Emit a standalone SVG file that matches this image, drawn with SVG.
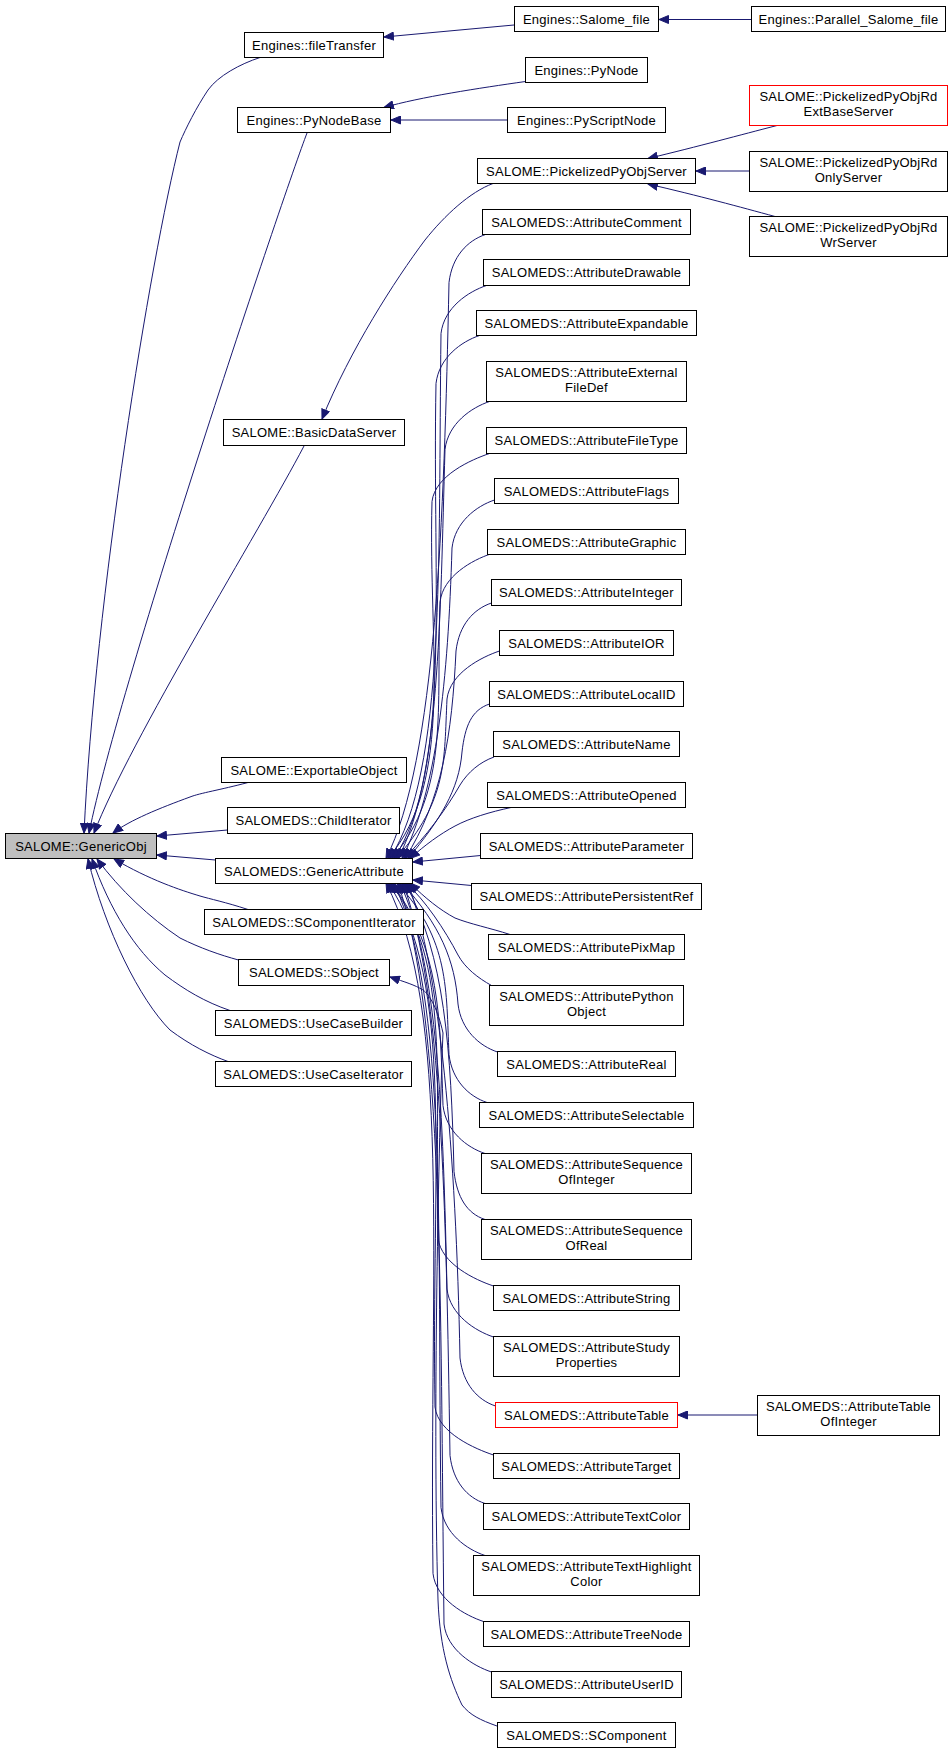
<svg xmlns="http://www.w3.org/2000/svg" width="952" height="1753" viewBox="0 0 952 1753">
<style>
rect{fill:#fff;stroke:#000;stroke-width:1}
rect.g{fill:#bfbfbf}
rect.r{stroke:#ff0000}
text{font-family:"Liberation Sans",Arial,sans-serif;font-size:13px;letter-spacing:0.25px;text-anchor:middle;fill:#000}
#edges path{fill:none;stroke:#191970;stroke-width:1;marker-end:url(#ah)}
</style>
<defs>
<marker id="ah" markerUnits="userSpaceOnUse" markerWidth="11" markerHeight="9" refX="10" refY="4.5" orient="auto">
<path d="M0.5,0.5 L10,4.5 L0.5,8.5 z" fill="#191970" stroke="#191970" stroke-width="1"/>
</marker>
</defs>
<rect x="0" y="0" width="952" height="1753" style="fill:#fff;stroke:none"/>
<g id="edges">
<path d="M751,19.5 L659,19.5"/>
<path d="M514,25 L384,37"/>
<path d="M525.5,81.5 C480,88 420,97 384,107.5"/>
<path d="M507,120 L391,120"/>
<path d="M777,125.5 C740,135 700,146 648,158.5"/>
<path d="M749.5,171 L696,171"/>
<path d="M775,216.5 C740,207 700,196 648,184"/>
<path d="M493,183.5 C470,192 445,215 425,240 C395,280 350,350 322,419"/>
<path d="M260,57.5 C240,64 218,76 208,90 C196,108 186,128 180,142 C150,260 95,600 84,833"/>
<path d="M307,133 C285,190 120,680 89,833"/>
<path d="M304,446 C260,530 130,740 94,833"/>
<path d="M248,782.5 C220,790 200,793 190,797 C160,808 130,820 113,833"/>
<path d="M227.5,830 L157,836"/>
<path d="M215.5,860 L157,855"/>
<path d="M248,909.5 C225,902 210,899 200,896 C180,890 150,880 114,859"/>
<path d="M238.5,960 C220,955 200,948 180,938 C150,918 120,890 97,859"/>
<path d="M230,1010.5 C205,1002 185,990 165,975 C135,950 110,910 92,859"/>
<path d="M228,1061.5 C210,1055 190,1045 170,1030 C140,1000 105,930 88,859"/>
<path d="M485.5,234.5 C467.5,240.5 452,256.5 449,282.5 C444,520 436,760 386,858.5"/>
<path d="M486.5,285.5 C468.5,291.5 444,307.5 441,333.5 C438,560 446,770 390,858.5"/>
<path d="M479.5,335.5 C461.5,341.5 439,357.5 436,383.5 C432,590 452,770 394,858.5"/>
<path d="M489.5,401.5 C471.5,407.5 448,423.5 445,449.5 C440,620 440,780 398,858.5"/>
<path d="M489.5,453.5 C471.5,459.5 435,475.5 432,501.5 C428,650 455,780 388,858.5"/>
<path d="M494.5,500 C476.5,506 455,522 452,548 C448,680 437,790 402,858.5"/>
<path d="M490.5,554 C472.5,560 443,576 440,602 C436,710 450,790 392,858.5"/>
<path d="M491.5,603 C473.5,609 459,625 456,651 C452,735 442,800 405,858.5"/>
<path d="M499.5,651 C481.5,657 450,673 447,699 C444,760 448,800 396,858.5"/>
<path d="M489.5,704 C471.5,710 465,726 462,752 C459,790 440,820 408,858.5"/>
<path d="M494,757 C480,762 468,772 460,785 C447,808 425,838 404,858.5"/>
<path d="M511,807.5 C490,812 470,818 455,826 C440,834 425,845 410,858.5"/>
<path d="M480.5,855.5 L413,862"/>
<path d="M471.5,885.5 L413,880"/>
<path d="M510,934.5 C490,928 470,924 455,918 C440,910 425,898 410,883"/>
<path d="M491.5,985.5 C478,978 465,968 458,955 C445,930 425,900 406,883"/>
<path d="M497.5,1052 C479.5,1046 461,1030 458,1004 C455,960 440,925 402,883"/>
<path d="M487,1102.5 C469,1096.5 452,1080.5 449,1054.5 C446,990 450,940 397,883"/>
<path d="M485,1153.5 C467,1147.5 446,1131.5 443,1105.5 C440,1015 440,950 392,883"/>
<path d="M485,1219.5 C467,1213.5 457,1197.5 454,1171.5 C451,1050 445,955 405,883"/>
<path d="M493.5,1286 C475.5,1280 441,1264 438,1238 C434,1080 452,960 390,883"/>
<path d="M493.5,1337 C475.5,1331 450,1315 447,1289 C443,1110 438,965 400,883"/>
<path d="M495.5,1406 C477.5,1400 463,1384 460,1358 C456,1150 440,970 408,883"/>
<path d="M493.5,1455 C475.5,1449 438,1433 435,1407 C431,1170 455,980 388,883"/>
<path d="M485,1503.5 C467,1497.5 453,1481.5 450,1455.5 C446,1200 442,990 403,883"/>
<path d="M485,1555.5 C467,1549.5 444,1533.5 441,1507.5 C437,1230 448,1000 394,883"/>
<path d="M483.5,1621.5 C465.5,1615.5 436,1599.5 433,1573.5 C429,1260 452,1010 386,883"/>
<path d="M491.5,1672 C473.5,1666 447,1650 444,1624 C440,1290 444,1020 398,883"/>
<path d="M497,1726 C480,1720 470,1715 462,1705 C450,1680 440,1650 438,1600 C432,1400 440,1100 443,1033 C438,1010 430,995 423,990 C415,985 405,982 390,977"/>
<path d="M757.5,1415 L678,1415"/>
</g>
<g id="GenericObj"><rect class="g" x="5.5" y="833.5" width="151" height="25"/><text x="81" y="850.5">SALOME::GenericObj</text></g>
<g id="fileTransfer"><rect x="244.5" y="32.5" width="139" height="25"/><text x="314" y="49.5">Engines::fileTransfer</text></g>
<g id="PyNodeBase"><rect x="237.5" y="107.5" width="153" height="25"/><text x="314" y="124.5">Engines::PyNodeBase</text></g>
<g id="Salome_file"><rect x="514.5" y="6.5" width="144" height="25"/><text x="586.5" y="23.5">Engines::Salome_file</text></g>
<g id="Parallel_Salome_file"><rect x="751.5" y="6.5" width="194" height="25"/><text x="848.5" y="23.5">Engines::Parallel_Salome_file</text></g>
<g id="PyNode"><rect x="525.5" y="57.5" width="122" height="25"/><text x="586.5" y="74.5">Engines::PyNode</text></g>
<g id="PyScriptNode"><rect x="507.5" y="107.5" width="158" height="25"/><text x="586.5" y="124.5">Engines::PyScriptNode</text></g>
<g id="PickelizedPyObjServer"><rect x="477.5" y="158.5" width="218" height="25"/><text x="586.5" y="175.5">SALOME::PickelizedPyObjServer</text></g>
<g id="PickelizedPyObjRdExtBaseServer"><rect class="r" x="749.5" y="85.5" width="198" height="40"/><text x="848.5" y="101">SALOME::PickelizedPyObjRd</text><text x="848.5" y="116">ExtBaseServer</text></g>
<g id="PickelizedPyObjRdOnlyServer"><rect x="749.5" y="151.5" width="198" height="40"/><text x="848.5" y="167">SALOME::PickelizedPyObjRd</text><text x="848.5" y="182">OnlyServer</text></g>
<g id="PickelizedPyObjRdWrServer"><rect x="749.5" y="216.5" width="198" height="40"/><text x="848.5" y="232">SALOME::PickelizedPyObjRd</text><text x="848.5" y="247">WrServer</text></g>
<g id="BasicDataServer"><rect x="223.5" y="419.5" width="181" height="26"/><text x="314" y="437">SALOME::BasicDataServer</text></g>
<g id="ExportableObject"><rect x="221.5" y="757.5" width="185" height="25"/><text x="314" y="774.5">SALOME::ExportableObject</text></g>
<g id="ChildIterator"><rect x="227.5" y="807.5" width="172" height="26"/><text x="313.5" y="825">SALOMEDS::ChildIterator</text></g>
<g id="GenericAttribute"><rect x="215.5" y="858.5" width="197" height="25"/><text x="314" y="875.5">SALOMEDS::GenericAttribute</text></g>
<g id="SComponentIterator"><rect x="204.5" y="909.5" width="219" height="25"/><text x="314" y="926.5">SALOMEDS::SComponentIterator</text></g>
<g id="SObject"><rect x="238.5" y="959.5" width="151" height="26"/><text x="314" y="977">SALOMEDS::SObject</text></g>
<g id="UseCaseBuilder"><rect x="215.5" y="1010.5" width="196" height="25"/><text x="313.5" y="1027.5">SALOMEDS::UseCaseBuilder</text></g>
<g id="UseCaseIterator"><rect x="215.5" y="1061.5" width="196" height="25"/><text x="313.5" y="1078.5">SALOMEDS::UseCaseIterator</text></g>
<g id="AttributeComment"><rect x="482.5" y="209.5" width="208" height="25"/><text x="586.5" y="226.5">SALOMEDS::AttributeComment</text></g>
<g id="AttributeDrawable"><rect x="483.5" y="259.5" width="206" height="26"/><text x="586.5" y="277">SALOMEDS::AttributeDrawable</text></g>
<g id="AttributeExpandable"><rect x="476.5" y="310.5" width="220" height="25"/><text x="586.5" y="327.5">SALOMEDS::AttributeExpandable</text></g>
<g id="AttributeExternalFileDef"><rect x="486.5" y="361.5" width="200" height="40"/><text x="586.5" y="377">SALOMEDS::AttributeExternal</text><text x="586.5" y="392">FileDef</text></g>
<g id="AttributeFileType"><rect x="486.5" y="427.5" width="200" height="26"/><text x="586.5" y="445">SALOMEDS::AttributeFileType</text></g>
<g id="AttributeFlags"><rect x="494.5" y="478.5" width="184" height="25"/><text x="586.5" y="495.5">SALOMEDS::AttributeFlags</text></g>
<g id="AttributeGraphic"><rect x="487.5" y="529.5" width="198" height="25"/><text x="586.5" y="546.5">SALOMEDS::AttributeGraphic</text></g>
<g id="AttributeInteger"><rect x="491.5" y="579.5" width="190" height="26"/><text x="586.5" y="597">SALOMEDS::AttributeInteger</text></g>
<g id="AttributeIOR"><rect x="499.5" y="630.5" width="174" height="25"/><text x="586.5" y="647.5">SALOMEDS::AttributeIOR</text></g>
<g id="AttributeLocalID"><rect x="489.5" y="681.5" width="194" height="25"/><text x="586.5" y="698.5">SALOMEDS::AttributeLocalID</text></g>
<g id="AttributeName"><rect x="493.5" y="731.5" width="186" height="25"/><text x="586.5" y="748.5">SALOMEDS::AttributeName</text></g>
<g id="AttributeOpened"><rect x="487.5" y="782.5" width="198" height="25"/><text x="586.5" y="799.5">SALOMEDS::AttributeOpened</text></g>
<g id="AttributeParameter"><rect x="480.5" y="833.5" width="212" height="25"/><text x="586.5" y="850.5">SALOMEDS::AttributeParameter</text></g>
<g id="AttributePersistentRef"><rect x="471.5" y="883.5" width="230" height="26"/><text x="586.5" y="901">SALOMEDS::AttributePersistentRef</text></g>
<g id="AttributePixMap"><rect x="488.5" y="934.5" width="196" height="25"/><text x="586.5" y="951.5">SALOMEDS::AttributePixMap</text></g>
<g id="AttributePythonObject"><rect x="489.5" y="985.5" width="194" height="40"/><text x="586.5" y="1001">SALOMEDS::AttributePython</text><text x="586.5" y="1016">Object</text></g>
<g id="AttributeReal"><rect x="497.5" y="1051.5" width="178" height="25"/><text x="586.5" y="1068.5">SALOMEDS::AttributeReal</text></g>
<g id="AttributeSelectable"><rect x="479.5" y="1102.5" width="214" height="25"/><text x="586.5" y="1119.5">SALOMEDS::AttributeSelectable</text></g>
<g id="AttributeSequenceOfInteger"><rect x="481.5" y="1153.5" width="210" height="40"/><text x="586.5" y="1169">SALOMEDS::AttributeSequence</text><text x="586.5" y="1184">OfInteger</text></g>
<g id="AttributeSequenceOfReal"><rect x="481.5" y="1219.5" width="210" height="40"/><text x="586.5" y="1235">SALOMEDS::AttributeSequence</text><text x="586.5" y="1250">OfReal</text></g>
<g id="AttributeString"><rect x="493.5" y="1285.5" width="186" height="25"/><text x="586.5" y="1302.5">SALOMEDS::AttributeString</text></g>
<g id="AttributeStudyProperties"><rect x="493.5" y="1336.5" width="186" height="40"/><text x="586.5" y="1352">SALOMEDS::AttributeStudy</text><text x="586.5" y="1367">Properties</text></g>
<g id="AttributeTable"><rect class="r" x="495.5" y="1402.5" width="182" height="25"/><text x="586.5" y="1419.5">SALOMEDS::AttributeTable</text></g>
<g id="AttributeTarget"><rect x="493.5" y="1453.5" width="186" height="25"/><text x="586.5" y="1470.5">SALOMEDS::AttributeTarget</text></g>
<g id="AttributeTextColor"><rect x="483.5" y="1503.5" width="206" height="26"/><text x="586.5" y="1521">SALOMEDS::AttributeTextColor</text></g>
<g id="AttributeTextHighlightColor"><rect x="473.5" y="1555.5" width="226" height="40"/><text x="586.5" y="1571">SALOMEDS::AttributeTextHighlight</text><text x="586.5" y="1586">Color</text></g>
<g id="AttributeTreeNode"><rect x="483.5" y="1621.5" width="206" height="25"/><text x="586.5" y="1638.5">SALOMEDS::AttributeTreeNode</text></g>
<g id="AttributeUserID"><rect x="491.5" y="1671.5" width="190" height="26"/><text x="586.5" y="1689">SALOMEDS::AttributeUserID</text></g>
<g id="SComponent"><rect x="497.5" y="1722.5" width="178" height="25"/><text x="586.5" y="1739.5">SALOMEDS::SComponent</text></g>
<g id="AttributeTableOfInteger"><rect x="757.5" y="1395.5" width="182" height="40"/><text x="848.5" y="1411">SALOMEDS::AttributeTable</text><text x="848.5" y="1426">OfInteger</text></g>
</svg>
